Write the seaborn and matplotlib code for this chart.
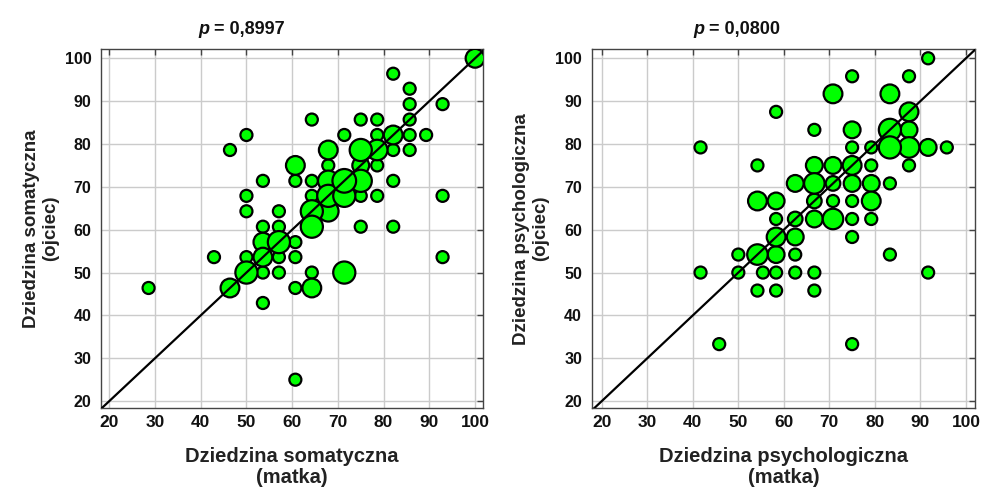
import numpy as np
import pandas as pd
import matplotlib
matplotlib.use("Agg")
import matplotlib.pyplot as plt
import seaborn as sns

# ---- data: left panel (Dziedzina somatyczna) ----
som_matka = [100, 82.1, 85.7, 85.7, 92.9, 64.3, 75, 78.6, 85.7, 50, 71.4, 78.6, 82.1, 85.7, 89.3,
             46.4, 67.9, 75, 78.6, 82.1, 85.7, 60.7, 67.9, 75, 78.6, 53.6, 60.7, 64.3, 67.9, 71.4,
             75, 82.1, 50, 64.3, 67.9, 71.4, 75, 78.6, 92.9, 50, 57.1, 64.3, 67.9, 53.6, 57.1,
             64.3, 75, 82.1, 53.6, 57.1, 60.7, 42.9, 50, 53.6, 57.1, 60.7, 92.9, 50, 53.6, 57.1,
             64.3, 71.4, 28.6, 46.4, 60.7, 64.3, 53.6, 60.7]
som_ojciec = [100, 96.4, 92.9, 89.3, 89.3, 85.7, 85.7, 85.7, 85.7, 82.1, 82.1, 82.1, 82.1, 82.1, 82.1,
              78.6, 78.6, 78.6, 78.6, 78.6, 78.6, 75, 75, 75, 75, 71.4, 71.4, 71.4, 71.4, 71.4,
              71.4, 71.4, 67.9, 67.9, 67.9, 67.9, 67.9, 67.9, 67.9, 64.3, 64.3, 64.3, 64.3, 60.7, 60.7,
              60.7, 60.7, 60.7, 57.1, 57.1, 57.1, 53.6, 53.6, 53.6, 53.6, 53.6, 53.6, 50, 50, 50,
              50, 50, 46.4, 46.4, 46.4, 46.4, 42.9, 25]
som_n = [4, 1, 1, 1, 1, 1, 1, 1, 1, 1, 1, 1, 4, 1, 1,
         1, 4, 6, 5, 1, 1, 4, 1, 3, 1, 1, 1, 1, 5, 7,
         6, 1, 1, 1, 6, 6, 1, 1, 1, 1, 1, 6, 5, 1, 1,
         6, 1, 1, 4, 6, 1, 1, 1, 4, 1, 1, 1, 6, 1, 1,
         1, 6, 1, 4, 1, 4, 1, 1]

# ---- data: right panel (Dziedzina psychologiczna) ----
psy_matka = [91.7, 75, 87.5, 70.8, 83.3, 58.3, 87.5, 66.7, 75, 83.3, 87.5, 41.7, 75, 79.2, 83.3,
             87.5, 91.7, 95.8, 54.2, 66.7, 70.8, 75, 79.2, 87.5, 62.5, 66.7, 70.8, 75, 79.2, 83.3,
             54.2, 58.3, 66.7, 70.8, 75, 79.2, 58.3, 62.5, 66.7, 70.8, 75, 79.2, 58.3, 62.5, 75,
             50, 54.2, 58.3, 62.5, 83.3, 41.7, 50, 55.4, 58.3, 62.5, 66.7, 91.7, 54.2, 58.3, 66.7,
             45.8, 75]
psy_ojciec = [100, 95.8, 95.8, 91.7, 91.7, 87.5, 87.5, 83.3, 83.3, 83.3, 83.3, 79.2, 79.2, 79.2, 79.2,
              79.2, 79.2, 79.2, 75, 75, 75, 75, 75, 75, 70.8, 70.8, 70.8, 70.8, 70.8, 70.8,
              66.7, 66.7, 66.7, 66.7, 66.7, 66.7, 62.5, 62.5, 62.5, 62.5, 62.5, 62.5, 58.3, 58.3, 58.3,
              54.2, 54.2, 54.2, 54.2, 54.2, 50, 50, 50, 50, 50, 50, 50, 45.8, 45.8, 45.8,
              33.3, 33.3]
psy_n = [1, 1, 1, 4, 4, 1, 4, 1, 3, 6, 3, 1, 1, 1, 6,
         5, 3, 1, 1, 3, 3, 4, 1, 1, 3, 5, 2, 3, 3, 1,
         4, 3, 2, 1, 1, 4, 1, 2, 3, 5, 1, 1, 4, 3, 1,
         1, 5, 3, 1, 1, 1, 1, 1, 1, 1, 1, 1, 1, 1, 1,
         1, 1]

tick_values = [20, 30, 40, 50, 60, 70, 80, 90, 100]
p_values = ["0,8997", "0,0800"]
x_labels = ["Dziedzina somatyczna\n(matka)", "Dziedzina psychologiczna\n(matka)"]
y_labels = ["Dziedzina somatyczna\n(ojciec)", "Dziedzina psychologiczna\n(ojciec)"]

sns.set_theme(style="white")
plt.rcParams["font.family"] = ["Liberation Sans", "DejaVu Sans"]
REG = ["Liberation Sans", "DejaVu Sans"]

fig = plt.figure(figsize=(9.82, 4.88), dpi=100)
ax1 = fig.add_axes([0.1029, 0.164, 0.389, 0.735])
ax2 = fig.add_axes([0.6026, 0.164, 0.3903, 0.735])

panels = [
    (ax1, som_matka, som_ojciec, som_n, (18.2, 101.75), (18.4, 102.1), 0.254, 0.042),
    (ax2, psy_matka, psy_ojciec, psy_n, (17.8, 102.0), (18.4, 102.1), 0.264, 0.541),
]

for i, (ax, xs, ys, ns, xl, yl, tx, ylx) in enumerate(panels):
    df = pd.DataFrame({"x": xs, "y": ys, "n": ns}).sort_values("n", kind="stable")
    ax.set_axisbelow(True)
    ax.grid(True, color="#cbcbcb", lw=1.0)
    sns.scatterplot(data=df, x="x", y="y", size="n", sizes=(75, 290), size_norm=(1, 7),
                    color="#00ff00", edgecolor="black", linewidth=1.6, legend=False,
                    ax=ax, zorder=3, alpha=1)
    lo = min(xl[0], yl[0]); hi = max(xl[1], yl[1])
    ax.plot([lo, hi], [lo, hi], color="black", lw=1.6, zorder=4)
    ax.set_xlim(*xl); ax.set_ylim(*yl)
    ax.set_xticks(tick_values); ax.set_yticks(tick_values)
    ax.tick_params(direction="in", length=4, width=1, top=True, right=True,
                   color="#444444", pad=5)
    ax.tick_params(axis="y", pad=7)
    for lab in ax.get_xticklabels():
        lab.set_family(REG); lab.set_weight("bold"); lab.set_size(12.5); lab.set_color("#111111")
    for lab in ax.get_yticklabels():
        lab.set_family(REG); lab.set_weight("bold"); lab.set_size(11.5); lab.set_color("#111111")
    for s in ax.spines.values():
        s.set_color("#444444"); s.set_linewidth(1.0)
    ax.set_xlabel(""); ax.set_ylabel("")
    pos = ax.get_position()
    fig.text(pos.x0 + pos.width * 0.5, 0.043, x_labels[i], ha="center", va="center",
             family=REG, weight="bold", size=14.5, color="#222222", linespacing=1.15)
    fig.text(ylx, pos.y0 + pos.height * 0.5, y_labels[i], ha="center", va="center",
             rotation=90, family=REG, weight="bold", size=13.5, color="#222222",
             linespacing=1.15, multialignment="center")
    t1 = ax.text(tx, 1.0 + 15 / 359, "p", transform=ax.transAxes, ha="left", va="baseline",
                 family=REG, weight="bold", style="italic", size=13, color="#111111")
    ax.annotate(" = " + p_values[i], xy=(1, 0), xycoords=t1, va="bottom", ha="left",
                family=REG, weight="bold", size=13, color="#111111")

fig.savefig("out.png", dpi=100)
